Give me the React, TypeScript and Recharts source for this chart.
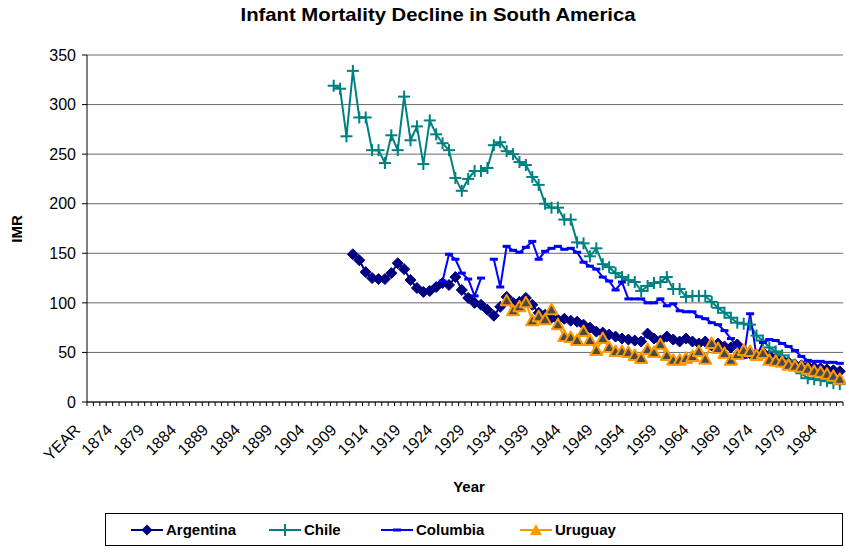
import React from "react";
import { LineChart, Line, XAxis, YAxis, CartesianGrid } from "recharts";

// categories: "YEAR" header cell then 1870..1986
const FIRST_YEAR = 1870;
const LAST_YEAR = 1986;
const CATEGORIES: string[] = ["YEAR"];
for (let y = FIRST_YEAR; y <= LAST_YEAR; y++) CATEGORIES.push(String(y));

const Y_TICKS = [0, 50, 100, 150, 200, 250, 300, 350];

const ARGENTINA_START = 1910;
const ARGENTINA = [
  149, 143, 131, 125, 124, 124, 130, 140, 134, 123,
  115, 111, 112, 116, 120, 118, 126, 113, 105, 100,
  98, 93, 87, 96, 106, 100, 101, 105, 98, 90,
  88, 85, 83, 84, 82, 81, 78, 75, 71, 70,
  68, 66, 64, 63, 62, 61, 69, 64, 62, 66,
  63, 61, 64, 61, 59, 61, 57, 59, 56, 55,
  58, 52, 49, 48, 50, 47, 44, 42, 40, 38,
  37, 36, 35, 34, 33, 32, 31,
];

const CHILE_START = 1907;
const CHILE = [
  319, 316, 268, 334, 287, 287, 254, 254, 241, 269,
  254, 308, 264, 278, 240, 284, 270, 261, 254, 226,
  213, 225, 233, 233, 236, 259, 262, 253, 250, 242,
  239, 227, 219, 200, 196, 196, 184, 184, 161, 160,
  147, 155, 139, 136, 130, 126, 123, 121, 112, 117,
  120, 121, 126, 114, 114, 106, 107, 107, 107, 101,
  95, 90, 85, 80, 79, 78, 67, 62, 55, 51,
  47, 42, 36, 29, 24, 23, 22, 21, 19, 18,
];

const COLUMBIA_START = 1924;
const COLUMBIA: (number | null)[] = [
  122, 149, 144, 130, 124, 107, 125, null, 144, 116,
  157, 153, 151, 156, 162, 144, 152, 155, 157, 154,
  155, 151, 141, 137, 134, 126, 122, 113, 121, 104,
  104, 104, 100, 100, 104, 97, 99, 92, 91, 91,
  86, 84, 80, 78, 72, 64, 55, 45, 89, 46,
  60, 63, 62, 59, 56, 52, 46, 42, 41, 41,
  40, 40, 39,
];

const URUGUAY_START = 1934;
const URUGUAY = [
  102, 92, 96, 100, 82, 86, 83, 93, 78, 66,
  65, 62, 71, 62, 52, 64, 55, 51, 51, 50,
  47, 44, 53, 50, 58, 47, 42, 42, 44, 46,
  51, 43, 59, 54, 49, 42, 48, 52, 51, 47,
  49, 42, 41, 40, 37, 36, 35, 33, 31, 30,
  28, 26, 23,
];

const NAVY = "#000080";
const TEAL = "#008080";
const BLUE = "#0000FF";
const ORANGE = "#FF9900";
const FONT = "'Liberation Sans', Arial, sans-serif";

function pick(values: (number | null)[], start: number, cat: string): number | null {
  if (cat === "YEAR") return null;
  const v = values[Number(cat) - start];
  return v === undefined ? null : v;
}

const data = CATEGORIES.map((cat) => ({
  year: cat,
  argentina: pick(ARGENTINA, ARGENTINA_START, cat),
  chile: pick(CHILE, CHILE_START, cat),
  columbia: pick(COLUMBIA, COLUMBIA_START, cat),
  uruguay: pick(URUGUAY, URUGUAY_START, cat),
}));

const W = 846;
const H = 550;
const PLOT_LEFT = 87;
const PLOT_RIGHT = 843;
const PLOT_BOTTOM = 402;
const BAND = (PLOT_RIGHT - PLOT_LEFT) / CATEGORIES.length;

function DiamondDot(props: any) {
  const { cx, cy, index } = props;
  if (cx == null || cy == null || props.value == null) return <g key={`a${index}`} />;
  const r = 5.5;
  return (
    <polygon
      key={`a${index}`}
      points={`${cx},${cy - r} ${cx + r},${cy} ${cx},${cy + r} ${cx - r},${cy}`}
      fill={NAVY}
      stroke={NAVY}
      strokeWidth={1}
    />
  );
}

function PlusDot(props: any) {
  const { cx, cy, index } = props;
  if (cx == null || cy == null || props.value == null) return <g key={`c${index}`} />;
  const r = 6;
  return (
    <g key={`c${index}`} stroke={TEAL} strokeWidth={2}>
      <line x1={cx - r} y1={cy} x2={cx + r} y2={cy} />
      <line x1={cx} y1={cy - r} x2={cx} y2={cy + r} />
    </g>
  );
}

function DashDot(props: any) {
  const { cx, cy, index } = props;
  if (cx == null || cy == null || props.value == null) return <g key={`b${index}`} />;
  return <rect key={`b${index}`} x={cx - 4} y={cy - 1.5} width={8} height={3} fill={BLUE} />;
}

function TriangleDot(props: any) {
  const { cx, cy, index } = props;
  if (cx == null || cy == null || props.value == null) return <g key={`u${index}`} />;
  return (
    <polygon
      key={`u${index}`}
      points={`${cx},${cy - 6} ${cx + 6},${cy + 4.5} ${cx - 6},${cy + 4.5}`}
      fill="#4a4a4a"
      stroke={ORANGE}
      strokeWidth={2}
      strokeLinejoin="round"
    />
  );
}

function YearTick(props: any) {
  const { x, payload, index } = props;
  const bx = x - BAND / 2;
  return (
    <g>
      <line x1={bx} y1={PLOT_BOTTOM} x2={bx} y2={PLOT_BOTTOM + 4} stroke="#000" />
      {index === CATEGORIES.length - 1 && (
        <line x1={x + BAND / 2} y1={PLOT_BOTTOM} x2={x + BAND / 2} y2={PLOT_BOTTOM + 4} stroke="#000" />
      )}
      {index % 5 === 0 && (
        <text
          transform={`translate(${x - 9},${PLOT_BOTTOM + 29}) rotate(-45)`}
          textAnchor="end"
          fontSize={16}
          fontFamily={FONT}
          fill="#000"
        >
          {payload.value}
        </text>
      )}
    </g>
  );
}

function LegendIcon({ color, marker }: { color: string; marker: string }) {
  return (
    <svg width={32} height={14} style={{ position: "absolute", left: 0, top: 2 }}>
      <line x1={0} y1={7} x2={32} y2={7} stroke={color} strokeWidth={2} />
      {marker === "diamond" && <polygon points="16,1.5 21.5,7 16,12.5 10.5,7" fill={color} />}
      {marker === "plus" && (
        <g stroke={color} strokeWidth={2}>
          <line x1={10} y1={7} x2={22} y2={7} />
          <line x1={16} y1={1} x2={16} y2={13} />
        </g>
      )}
      {marker === "dash" && <rect x={12} y={5.5} width={8} height={3} fill={color} />}
      {marker === "triangle" && <polygon points="16,1 22,12 10,12" fill={color} />}
    </svg>
  );
}

const LEGEND = [
  { name: "Argentina", color: NAVY, marker: "diamond", left: 130 },
  { name: "Chile", color: TEAL, marker: "plus", left: 268 },
  { name: "Columbia", color: BLUE, marker: "dash", left: 380 },
  { name: "Uruguay", color: ORANGE, marker: "triangle", left: 519 },
];

export default function App() {
  return (
    <div style={{ position: "absolute", left: 0, top: 0, width: W, height: H, background: "#fff", fontFamily: FONT }}>
      <LineChart width={W} height={H} data={data} margin={{ top: 55, right: W - PLOT_RIGHT, left: 0, bottom: 0 }}>
        <CartesianGrid vertical={false} stroke="#6a6a6a" />
        <XAxis
          dataKey="year"
          scale="band"
          interval={0}
          height={H - PLOT_BOTTOM}
          tickLine={false}
          axisLine={{ stroke: "#000" }}
          tick={<YearTick />}
        />
        <YAxis
          domain={[0, 350]}
          ticks={Y_TICKS}
          width={PLOT_LEFT}
          tickSize={5}
          tickMargin={6}
          interval={0}
          axisLine={{ stroke: "#000" }}
          tickLine={{ stroke: "#000" }}
          tick={{ fill: "#000", fontSize: 16, fontFamily: FONT }}
        />
        <Line type="linear" dataKey="argentina" stroke={NAVY} strokeWidth={2} dot={DiamondDot} activeDot={false} isAnimationActive={false} />
        <Line type="linear" dataKey="chile" stroke={TEAL} strokeWidth={2} dot={PlusDot} activeDot={false} isAnimationActive={false} />
        <Line type="linear" dataKey="columbia" stroke={BLUE} strokeWidth={2} dot={DashDot} activeDot={false} isAnimationActive={false} />
        <Line type="linear" dataKey="uruguay" stroke={ORANGE} strokeWidth={2} dot={TriangleDot} activeDot={false} isAnimationActive={false} />
      </LineChart>

      <svg width={W} height={H} style={{ position: "absolute", left: 0, top: 0, pointerEvents: "none" }}>
        <text
          x={438}
          y={21}
          textAnchor="middle"
          fontSize={19}
          fontWeight="bold"
          fontFamily={FONT}
          textLength={395}
          lengthAdjust="spacingAndGlyphs"
        >
          Infant Mortality Decline in South America
        </text>
        <text x={469} y={492} textAnchor="middle" fontSize={15} fontWeight="bold" fontFamily={FONT}>
          Year
        </text>
        <text transform="translate(22,229) rotate(-90)" textAnchor="middle" fontSize={15} fontWeight="bold" fontFamily={FONT}>
          IMR
        </text>
      </svg>

      <div
        style={{
          position: "absolute",
          left: 105,
          top: 513,
          width: 738,
          height: 33,
          border: "1px solid #000",
          boxSizing: "border-box",
        }}
      >
        {LEGEND.map((item) => (
          <div key={item.name} style={{ position: "absolute", left: item.left - 105, top: 7, height: 18 }}>
            <LegendIcon color={item.color} marker={item.marker} />
            <span
              style={{
                position: "absolute",
                left: 35,
                top: 0,
                fontSize: 15,
                fontWeight: "bold",
                whiteSpace: "nowrap",
                lineHeight: "18px",
              }}
            >
              {item.name}
            </span>
          </div>
        ))}
      </div>
    </div>
  );
}
